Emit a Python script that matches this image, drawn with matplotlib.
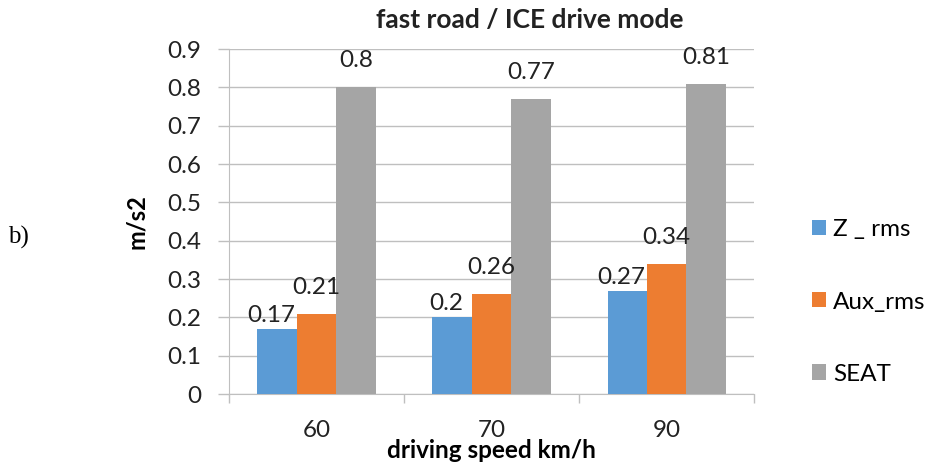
import numpy as np
import matplotlib
matplotlib.use("Agg")
import matplotlib.pyplot as plt

plt.rcParams['font.family'] = ['Lato', 'DejaVu Sans']

speeds = ['60', '70', '90']
series_names = ['Z _ rms', 'Aux_rms', 'SEAT']
z_rms = [0.17, 0.2, 0.27]
aux_rms = [0.21, 0.26, 0.34]
seat = [0.8, 0.77, 0.81]

colors = ['#5B9BD5', '#ED7D31', '#A5A5A5']
grid_col = '#BFBFBF'
txt_col = '#222222'
fs = 17.5

fig = plt.figure(figsize=(9.31, 4.63), dpi=100)
ax = fig.add_axes([0.246, 0.149, 0.564, 0.745])

x = np.arange(len(speeds))
w = 0.225
label_dy = [3, 16, 16]     # label lift above bar, in pixels
label_dx = [-6, 0, 0]

handles = []
for i, (vals, name) in enumerate(zip([z_rms, aux_rms, seat], series_names)):
    pos = x + (i - 1) * w
    b = ax.bar(pos, vals, w, color=colors[i], label=name, zorder=3)
    handles.append(b)
    for px, v in zip(pos, vals):
        ax.annotate(f'{v:g}', (px, v), xytext=(label_dx[i] * 0.72, label_dy[i] * 0.72),
                    textcoords='offset points', ha='center', va='bottom',
                    fontsize=fs, color=txt_col, zorder=4)

ax.set_xlim(-0.5, 2.5)
ax.set_ylim(0, 0.9)
ax.set_yticks(np.arange(0, 0.91, 0.1))
ax.set_yticklabels(['0'] + [f'{v:.1f}' for v in np.arange(0.1, 0.91, 0.1)])
ax.yaxis.grid(True, color=grid_col, linewidth=1, zorder=0)
ax.tick_params(axis='y', length=8, width=1, color=grid_col, pad=12, labelsize=fs, labelcolor=txt_col)

ax.set_xticks(x)
ax.set_xticklabels(speeds)
ax.set_xticks([-0.5, 0.5, 1.5, 2.5], minor=True)
ax.tick_params(axis='x', which='major', length=0, pad=19, labelsize=fs, labelcolor=txt_col)
ax.tick_params(axis='x', which='minor', length=6.5, width=1, color=grid_col)

for s in ['top', 'right']:
    ax.spines[s].set_visible(False)
ax.spines['left'].set_color(grid_col)
ax.spines['bottom'].set_color(grid_col)

ax.set_ylabel('m/s2', fontsize=17, fontweight='bold', labelpad=14)
ax.set_xlabel('driving speed km/h', fontsize=17.5, fontweight='bold', labelpad=-2)

fig.text(530 / 931, 1 - 20 / 463, 'fast road / ICE drive mode', ha='center', va='center',
         fontsize=19, fontweight='bold', color=txt_col)

fig.legend(handles=handles, labels=series_names, loc='center left',
           bbox_to_anchor=(812 / 931, 1 - 302 / 463), frameon=False, fontsize=fs,
           handlelength=0.58, handleheight=0.58, handletextpad=0.3, labelspacing=2.1,
           borderaxespad=0, borderpad=0)

fig.text(8 / 931, 1 - 237 / 463, 'b)', family='Liberation Serif', fontsize=18,
         ha='left', va='center')

fig.savefig('out.png', dpi=100)
